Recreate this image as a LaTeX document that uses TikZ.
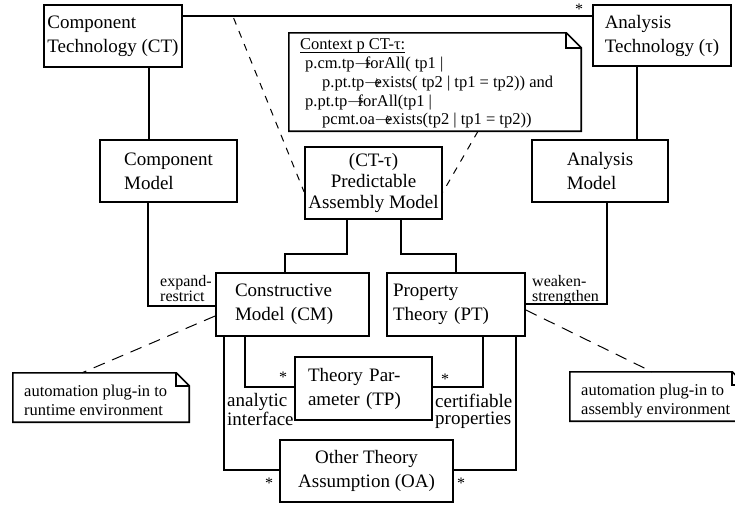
\documentclass[tikz,border=0pt]{standalone}
\usepackage{fontspec}
\setmainfont{Liberation Serif}
\usetikzlibrary{calc}

\newcommand\boxfont{\fontsize{19}{24}\selectfont}
\newcommand\pamfont{\fontsize{19}{21}\selectfont}
\newcommand\notefont{\fontsize{16.5}{18.8}\selectfont}
\newcommand\tagfont{\fontsize{16}{15}\selectfont}
\newcommand\rolefont{\fontsize{19}{17}\selectfont}
\newcommand\starfont{\fontsize{16}{16}\selectfont}
% OCL navigation arrow, set tight against the following operation name
\newcommand\nav{\makebox[0.62em][l]{$\rightarrow$}}
% underline drawn just below the baseline
\newcommand\ctxul[1]{\setbox0\hbox{#1}\rlap{\rule[-2.6pt]{\wd0}{0.7pt}}\box0}

\begin{document}
\begin{tikzpicture}[x=1pt, y=-1pt,
  box/.style={draw, line width=1.8pt, inner sep=0pt, font=\boxfont},
  conn/.style={line width=1.6pt},
  slim/.style={line width=1.1pt},
  assocdash/.style={line width=1pt, dash pattern=on 7pt off 7pt},
  notedash/.style={line width=1pt, dash pattern=on 12pt off 8pt},
  noteline/.style={line width=1.6pt},
  notearea/.style={inner sep=0pt, draw=none},
  txt/.style={inner sep=0pt, anchor=north west, align=left},
  star/.style={inner sep=0pt, anchor=base, font=\starfont}
]
\useasboundingbox (0,0) rectangle (735,504);
\fill[white] (0,0) rectangle (735,504);
\clip (0,0) rectangle (735,504);

% ---- model elements ----
\node[box, minimum width=138pt, minimum height=62pt, align=left] (ct) at (113,36) {Component\\Technology (CT)};
\node[box, minimum width=138pt, minimum height=61pt, align=left] (at) at (662,35.5) {Analysis\\Technology (τ)};
\node[box, minimum width=137pt, minimum height=62pt, align=left] (cmod) at (168.5,171) {Component\\Model};
\node[box, minimum width=136pt, minimum height=62pt, align=left] (amod) at (600,171) {Analysis\\Model};
\node[box, minimum width=137pt, minimum height=72pt, align=center, font=\pamfont] (pam) at (373.5,183) {(CT-τ)\\Predictable\\Assembly Model};
\node[box, minimum height=63pt, text width=115pt, inner xsep=19pt, align=left] (cm) at (292.5,304.5) {Constructive\\Model (CM)};
\node[box, minimum height=63pt, text width=126pt, inner xsep=6pt, align=left] (pt) at (456,304.5) {Property\\Theory (PT)};
\node[box, minimum height=63pt, text width=111pt, inner xsep=13pt, align=left] (tp) at (363.5,388.5) {Theory Par-\\ameter (TP)};
\node[box, minimum width=173pt, minimum height=62pt, align=center] (oa) at (366.5,471) {Other Theory\\Assumption (OA)};

% ---- notes (outline with folded corner) ----
\node[notearea, minimum width=292pt, minimum height=98pt] (ctx) at (435,82) {};
\draw[noteline] (ctx.south west) -- (ctx.north west) -- ([xshift=-15pt]ctx.north east)
  -- ([yshift=-15pt]ctx.north east) -- (ctx.south east) -- cycle;
\draw[noteline] ([xshift=-15pt]ctx.north east) |- ([yshift=-15pt]ctx.north east);
\node[txt, font=\notefont] (ctxtext) at (300,38.5) {%
  \ctxul{Context p CT-τ:}\\
  \hspace*{5pt}p.cm.tp\nav forAll( tp1 |\\
  \hspace*{22pt}p.pt.tp\nav exists( tp2 | tp1 = tp2)) and\\
  \hspace*{5pt}p.pt.tp\nav forAll(tp1 |\\
  \hspace*{22pt}pcmt.oa\nav exists(tp2 | tp1 = tp2))};

\node[notearea, minimum width=176pt, minimum height=49pt] (rtnote) at (101,397.5) {};
\draw[noteline] (rtnote.south west) -- (rtnote.north west) -- ([xshift=-13pt]rtnote.north east)
  -- ([yshift=-13pt]rtnote.north east) -- (rtnote.south east) -- cycle;
\draw[noteline] ([xshift=-13pt]rtnote.north east) |- ([yshift=-13pt]rtnote.north east);
\node[txt, font=\notefont] (rttext) at (24,385) {automation plug-in to\\runtime environment};

\node[notearea, minimum width=175pt, minimum height=49pt] (asnote) at (657.5,396.5) {};
\draw[noteline] (asnote.south west) -- (asnote.north west) -- ([xshift=-13pt]asnote.north east)
  -- ([yshift=-13pt]asnote.north east) -- (asnote.south east) -- cycle;
\draw[noteline] ([xshift=-13pt]asnote.north east) |- ([yshift=-13pt]asnote.north east);
\node[txt, font=\notefont] (astext) at (581,384) {automation plug-in to\\assembly environment};

% ---- associations ----
\draw[conn] ([yshift=-12pt]ct.north east) -- coordinate[pos=0.124] (assocpt) ([yshift=-12pt]at.north west);
\node[star] (s0) at (579,14) {*};
\draw[conn] ([xshift=36pt]ct.south) -- ([xshift=36pt]ct.south |- cmod.north);
\draw[conn] ([xshift=-25pt]at.south) -- ([xshift=-25pt]at.south |- amod.north);

\draw[conn] ([xshift=-20.5pt]cmod.south) |- ([yshift=-1.5pt]cm.west);
\node[txt, font=\tagfont] (er) at (160,275) {expand-\\restrict};
\draw[conn] ([xshift=7pt]amod.south) |- ([yshift=0.5pt]pt.east);
\node[txt, font=\tagfont] (ws) at (532,275) {weaken-\\strengthen};

\draw[conn] ([xshift=-26.5pt]pam.south) -- ++(0,34) -| ([xshift=-7.5pt]cm.north);
\draw[conn] ([xshift=27.5pt]pam.south) -- ++(0,34) -| (pt.north);

\draw[slim] ([xshift=-47.5pt]cm.south) |- ([yshift=1.5pt]tp.west);
\draw[slim] ([xshift=-68.5pt]cm.south) |- ([yshift=1pt]oa.west);
\draw[conn] ([xshift=27pt]pt.south) |- ([yshift=1.5pt]tp.east);
\draw[conn] ([xshift=60pt]pt.south) |- ([yshift=1pt]oa.east);

\node[star] (s1) at (283,382.5) {*};
\node[star] (s2) at (445,384.5) {*};
\node[star] (s3) at (269,488.5) {*};
\node[star] (s4) at (461,488.5) {*};
\node[txt, font=\rolefont] (ai) at (227,393.5) {analytic\\interface};
\node[txt, font=\rolefont] (cp) at (435,393.5) {certifiable\\properties};

% ---- dashed attachments ----
\draw[assocdash] ([yshift=-2pt]assocpt) -- ([yshift=-9pt]pam.west);
\draw[assocdash] ([xshift=43pt]ctx.south) -- ([yshift=-9pt]pam.east);
\draw[notedash] ([yshift=-11.5pt]cm.west) -- ([xshift=-19pt]rtnote.north);
\draw[notedash] ([yshift=-5.5pt]pt.east) -- ([xshift=-5.5pt]asnote.north);
\end{tikzpicture}
\end{document}
